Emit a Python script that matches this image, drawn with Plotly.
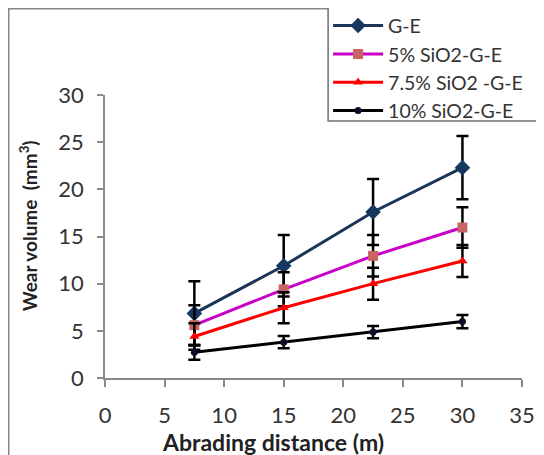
import plotly.graph_objects as go

distance = [7.5, 15, 22.5, 30]
series_names = ["G-E", "5% SiO2-G-E", "7.5% SiO2 -G-E", "10% SiO2-G-E"]
ge = [6.85, 11.9, 17.6, 22.3]
ge_err = [3.4, 3.25, 3.5, 3.35]
si5 = [5.6, 9.4, 12.95, 15.95]
si5_err = [2.1, 1.8, 2.2, 2.15]
si75 = [4.4, 7.45, 10.0, 12.4]
si75_err = [1.4, 1.65, 1.7, 1.7]
si10 = [2.72, 3.8, 4.87, 5.98]
si10_err = [0.78, 0.65, 0.65, 0.7]

x_ticks = [0, 5, 10, 15, 20, 25, 30, 35]
y_ticks = [0, 5, 10, 15, 20, 25, 30]

styles = [
    dict(line=dict(color="#1B3558", width=3), marker=dict(symbol="diamond", size=12, color="#17375E")),
    dict(line=dict(color="#C800C8", width=3), marker=dict(symbol="square", size=10, color="#C86464")),
    dict(line=dict(color="#FF0000", width=3), marker=dict(symbol="triangle-up", size=9, color="#FF0000")),
    dict(line=dict(color="#000000", width=3), marker=dict(symbol="circle", size=7, color="#0B0B2A")),
]
ys = [ge, si5, si75, si10]
errs = [ge_err, si5_err, si75_err, si10_err]

fig = go.Figure()
for name, y, e, st in zip(series_names, ys, errs, styles):
    fig.add_trace(go.Scatter(
        x=distance, y=y, name=name, mode="lines+markers",
        line=st["line"], marker=st["marker"],
        error_y=dict(type="data", array=e, visible=True, color="#000000", thickness=2.5, width=6),
    ))

font = "Lato, 'Open Sans', sans-serif"
axis_common = dict(
    showline=True, linecolor="#8A8A8A", linewidth=1.5,
    ticks="outside", tickcolor="#8A8A8A", tickwidth=1.5,
    showgrid=False, zeroline=False,
    tickfont=dict(family=font, size=22, color="#333333"),
)
fig.update_xaxes(range=[0, 35], tickvals=x_ticks, ticklen=7, ticklabelstandoff=10, **axis_common)
fig.update_yaxes(range=[0, 30], tickvals=y_ticks, ticklen=6, ticklabelstandoff=9, **axis_common)

fig.update_layout(
    width=536, height=447,
    margin=dict(l=97, r=22, t=87, b=77, autoexpand=False),
    paper_bgcolor="white", plot_bgcolor="white",
    font=dict(family=font),
    legend=dict(
        x=0.535, y=0.875, xanchor="left", yanchor="bottom",
        bgcolor="rgba(0,0,0,0)", borderwidth=0,
        font=dict(family=font, size=19.5, color="#333333"),
        tracegroupgap=0, itemwidth=50,
    ),
    annotations=[
        dict(text="<b>Abrading distance (m)</b>", xref="paper", yref="paper",
             x=0.403, y=-0.2245, xanchor="center", yanchor="middle", showarrow=False,
             font=dict(family=font, size=23, color="#222222")),
        dict(text="<b>Wear volume  (mm<sup>3</sup>)</b>", xref="paper", yref="paper",
             x=-0.1847, y=0.54, xanchor="center", yanchor="middle", showarrow=False, textangle=-90,
             font=dict(family=font, size=19, color="#222222")),
    ],
    shapes=[
        dict(type="rect", xref="paper", yref="paper", x0=-0.2308, x1=1.2, y0=-0.4, y1=1.3048,
             line=dict(color="#888888", width=1.5), fillcolor="rgba(0,0,0,0)", layer="below"),
        dict(type="rect", xref="paper", yref="paper", x0=0.535, x1=1.2, y0=0.908, y1=1.4,
             line=dict(color="#707070", width=1.5), fillcolor="white", layer="above"),
    ],
)

fig.write_html("out.html")
